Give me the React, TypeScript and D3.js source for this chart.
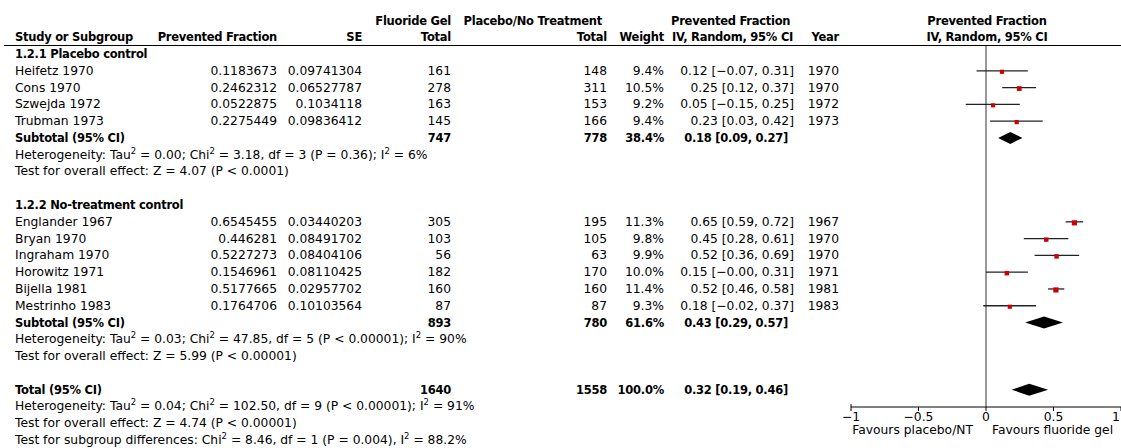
import React from "react";
import { scaleLinear } from "d3";

// study level data, two subgroups
const placeboStudies = ["Heifetz 1970", "Cons 1970", "Szwejda 1972", "Trubman 1973"];
const placeboPF = ["0.1183673", "0.2462312", "0.0522875", "0.2275449"];
const placeboSE = ["0.09741304", "0.06527787", "0.1034118", "0.09836412"];
const placeboGelN = [161, 278, 163, 145];
const placeboCtrlN = [148, 311, 153, 166];
const placeboWeight = ["9.4%", "10.5%", "9.2%", "9.4%"];
const placeboLo = [-0.07, 0.12, -0.15, 0.03];
const placeboHi = [0.31, 0.37, 0.25, 0.42];
const placeboYear = [1970, 1970, 1972, 1973];

const ntStudies = ["Englander 1967", "Bryan 1970", "Ingraham 1970", "Horowitz 1971", "Bijella 1981", "Mestrinho 1983"];
const ntPF = ["0.6545455", "0.446281", "0.5227273", "0.1546961", "0.5177665", "0.1764706"];
const ntSE = ["0.03440203", "0.08491702", "0.08404106", "0.08110425", "0.02957702", "0.10103564"];
const ntGelN = [305, 103, 56, 182, 160, 87];
const ntCtrlN = [195, 105, 63, 170, 160, 87];
const ntWeight = ["11.3%", "9.8%", "9.9%", "10.0%", "11.4%", "9.3%"];
const ntLo = [0.59, 0.28, 0.36, -0.0, 0.46, -0.02];
const ntHi = [0.72, 0.61, 0.69, 0.31, 0.58, 0.37];
const ntYear = [1967, 1970, 1970, 1971, 1981, 1983];

// pooled estimates: [est, lo, hi]
const subtotalPlacebo = [0.18, 0.09, 0.27];
const subtotalNT = [0.43, 0.29, 0.57];
const overall = [0.32, 0.19, 0.46];

const axisTicks = [-1, -0.5, 0, 0.5, 1];
const tickLabels = ["\u22121", "\u22120.5", "0", "0.5", "1"];

const FONT = "'DejaVu Sans', Verdana, sans-serif";
const f2 = (v) => (v < 0 || Object.is(v, -0) ? "\u2212" : "") + Math.abs(v).toFixed(2);
const ciText = (e, l, h) => `${f2(e)} [${f2(l)}, ${f2(h)}]`;

function Sup({ children }) {
  return (
    <tspan fontSize={8.5} dy={-5}>{children}</tspan>
  );
}

const boldStyle = { fontWeight: "bold", fontSize: 11.5, letterSpacing: -0.25 };

function App() {
  const W = 1121;
  const H = 448;
  const x = scaleLinear().domain([-1, 1]).range([851, 1121]);
  const rowY = scaleLinear().domain([0, 23]).range([54, 440]);
  const axisY = 407;

  const rows = [];
  const marks = [];

  const addGroup = (start, label, names, pf, se, gelN, ctrlN, wt, lo, hi, yr) => {
    rows.push({ i: start, bold: true, cells: [[15, "start", label]] });
    names.forEach((n, k) => {
      const i = start + 1 + k;
      const est = +pf[k];
      rows.push({
        i,
        cells: [
          [15, "start", n],
          [277, "end", pf[k]],
          [362, "end", se[k]],
          [451, "end", gelN[k]],
          [607, "end", ctrlN[k]],
          [664, "end", wt[k]],
          [794, "end", ciText(est, lo[k], hi[k])],
          [839, "end", yr[k]],
        ],
      });
      marks.push({ type: "study", i, est, lo: lo[k], hi: hi[k], w: parseFloat(wt[k]) });
    });
  };

  addGroup(0, "1.2.1 Placebo control", placeboStudies, placeboPF, placeboSE, placeboGelN, placeboCtrlN, placeboWeight, placeboLo, placeboHi, placeboYear);
  rows.push({ i: 5, bold: true, cells: [[15, "start", "Subtotal (95% CI)"], [451, "end", 747], [607, "end", 778], [664, "end", "38.4%"], [788, "end", ciText(...subtotalPlacebo)]] });
  marks.push({ type: "diamond", i: 5, est: subtotalPlacebo[0], lo: subtotalPlacebo[1], hi: subtotalPlacebo[2] });

  addGroup(9, "1.2.2 No-treatment control", ntStudies, ntPF, ntSE, ntGelN, ntCtrlN, ntWeight, ntLo, ntHi, ntYear);
  rows.push({ i: 16, bold: true, cells: [[15, "start", "Subtotal (95% CI)"], [451, "end", 893], [607, "end", 780], [664, "end", "61.6%"], [788, "end", ciText(...subtotalNT)]] });
  marks.push({ type: "diamond", i: 16, est: subtotalNT[0], lo: subtotalNT[1], hi: subtotalNT[2] });

  rows.push({ i: 20, bold: true, cells: [[15, "start", "Total (95% CI)"], [451, "end", 1640], [607, "end", 1558], [664, "end", "100.0%"], [788, "end", ciText(...overall)]] });
  marks.push({ type: "diamond", i: 20, est: overall[0], lo: overall[1], hi: overall[2] });

  const notes = [
    [6, <>Heterogeneity: Tau<Sup>2</Sup><tspan dy={5}> = 0.00; Chi</tspan><Sup>2</Sup><tspan dy={5}> = 3.18, df = 3 (P = 0.36); I</tspan><Sup>2</Sup><tspan dy={5}> = 6%</tspan></>],
    [7, "Test for overall effect: Z = 4.07 (P < 0.0001)"],
    [17, <>Heterogeneity: Tau<Sup>2</Sup><tspan dy={5}> = 0.03; Chi</tspan><Sup>2</Sup><tspan dy={5}> = 47.85, df = 5 (P &lt; 0.00001); I</tspan><Sup>2</Sup><tspan dy={5}> = 90%</tspan></>],
    [18, "Test for overall effect: Z = 5.99 (P < 0.00001)"],
    [21, <>Heterogeneity: Tau<Sup>2</Sup><tspan dy={5}> = 0.04; Chi</tspan><Sup>2</Sup><tspan dy={5}> = 102.50, df = 9 (P &lt; 0.00001); I</tspan><Sup>2</Sup><tspan dy={5}> = 91%</tspan></>],
    [22, "Test for overall effect: Z = 4.74 (P < 0.00001)"],
    [23, <>Test for subgroup differences: Chi<Sup>2</Sup><tspan dy={5}> = 8.46, df = 1 (P = 0.004), I</tspan><Sup>2</Sup><tspan dy={5}> = 88.2%</tspan></>],
  ];

  const base = (i) => rowY(i) + 4;

  return (
    <svg width={W} height={H} style={{ position: "absolute", left: 0, top: 0 }} fontFamily={FONT} fontSize={12.3}>
      <rect width={W} height={H} fill="#fff" />
      {/* header */}
      <g style={boldStyle}>
        <text x={451} y={25} textAnchor="end">Fluoride Gel</text>
        <text x={602} y={25} textAnchor="end">Placebo/No Treatment</text>
        <text x={671} y={25}>Prevented Fraction</text>
        <text x={987} y={25} textAnchor="middle">Prevented Fraction</text>
        <text x={15} y={41}>Study or Subgroup</text>
        <text x={277} y={41} textAnchor="end">Prevented Fraction</text>
        <text x={362} y={41} textAnchor="end">SE</text>
        <text x={451} y={41} textAnchor="end">Total</text>
        <text x={607} y={41} textAnchor="end">Total</text>
        <text x={664} y={41} textAnchor="end">Weight</text>
        <text x={672} y={41}>IV, Random, 95% CI</text>
        <text x={839} y={41} textAnchor="end">Year</text>
        <text x={987} y={41} textAnchor="middle">IV, Random, 95% CI</text>
      </g>
      <line x1={4} x2={W} y1={45.5} y2={45.5} stroke="#000" strokeWidth={1} />

      {rows.map((r, ri) => (
        <g key={ri} style={r.bold ? boldStyle : undefined}>
          {r.cells.map(([cx, anchor, t], ci) => (
            <text key={ci} x={cx} y={base(r.i)} textAnchor={anchor}>{t}</text>
          ))}
        </g>
      ))}
      {notes.map(([i, t]) => (
        <text key={i} x={15} y={base(i)}>{t}</text>
      ))}

      {/* forest plot */}
      <line x1={x(0)} x2={x(0)} y1={46} y2={axisY} stroke="#777" strokeWidth={1.5} />
      {marks.map((m, k) => {
        const cy = rowY(m.i);
        if (m.type === "diamond") {
          const pts = [[x(m.lo), cy], [x(m.est), cy - 6], [x(m.hi), cy], [x(m.est), cy + 6]];
          return <polygon key={k} points={pts.map((p) => p.join(",")).join(" ")} fill="#000" />;
        }
        const s = 4 + (m.w - 9) * 0.5;
        return (
          <g key={k}>
            <line x1={x(m.lo)} x2={x(m.hi)} y1={cy} y2={cy} stroke="#222" strokeWidth={1.3} />
            <rect x={x(m.est) - s / 2} y={cy - s / 2 + 1} width={s} height={s} fill="#cc0000" />
          </g>
        );
      })}

      {/* axis */}
      <line x1={x(-1)} x2={x(1)} y1={axisY} y2={axisY} stroke="#000" strokeWidth={1} />
      {axisTicks.map((t, k) => (
        <g key={t}>
          <line x1={x(t)} x2={x(t)} y1={k === 0 ? axisY - 3 : axisY} y2={axisY + 4} stroke="#000" />
          <text x={Math.min(x(t), W - 5)} y={axisY + 14} textAnchor="middle">{tickLabels[k]}</text>
        </g>
      ))}
      <text x={973} y={434} textAnchor="end">Favours placebo/NT</text>
      <text x={992} y={434}>Favours fluoride gel</text>
    </svg>
  );
}

export default App;
